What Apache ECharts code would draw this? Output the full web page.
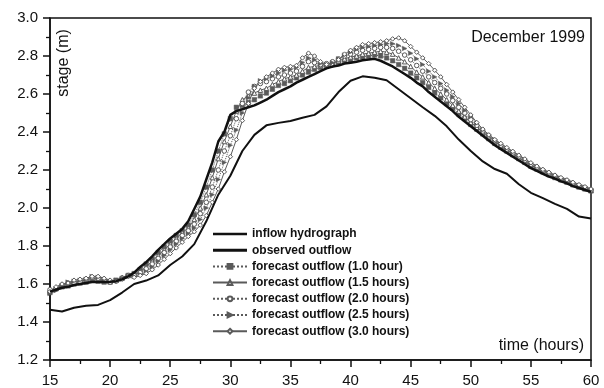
<!DOCTYPE html>
<html>
<head>
<meta charset="utf-8">
<script src="https://cdn.jsdelivr.net/npm/echarts@6/dist/echarts.min.js"></script>
<style>
html,body{margin:0;padding:0;background:#fff;}
#chart{width:604px;height:388px;}
</style>
</head>
<body>
<div id="chart"></div>
<script>
// ---- data ----
const hoursHalf = [15,15.5,16,16.5,17,17.5,18,18.5,19,19.5,20,20.5,21,21.5,22,22.5,23,23.5,24,24.5,25,25.5,26,26.5,27,27.5,28,28.5,29,29.5,30,30.5,31,31.5,32,32.5,33,33.5,34,34.5,35,35.5,36,36.5,37,37.5,38,38.5,39,39.5,40,40.5,41,41.5,42,42.5,43,43.5,44,44.5,45,45.5,46,46.5,47,47.5,48,48.5,49,49.5,50,50.5,51,51.5,52,52.5,53,53.5,54,54.5,55,55.5,56,56.5,57,57.5,58,58.5,59,59.5,60];
const hoursWhole = [15,16,17,18,19,20,21,22,23,24,25,26,27,28,29,30,31,32,33,34,35,36,37,38,39,40,41,42,43,44,45,46,47,48,49,50,51,52,53,54,55,56,57,58,59,60];

const inflowHydrograph = [1.465,1.455,1.475,1.485,1.49,1.515,1.555,1.60,1.618,1.645,1.70,1.745,1.81,1.93,2.07,2.17,2.30,2.385,2.435,2.448,2.458,2.475,2.49,2.535,2.61,2.67,2.693,2.685,2.672,2.625,2.578,2.53,2.485,2.43,2.36,2.30,2.245,2.205,2.18,2.125,2.08,2.052,2.022,1.995,1.955,1.945];

const observedOutflow = [1.56,1.57,1.58,1.585,1.595,1.60,1.605,1.61,1.61,1.61,1.612,1.615,1.625,1.64,
 1.66,1.69,1.715,1.745,1.78,1.81,1.84,1.865,1.89,1.93,1.995,2.06,2.15,2.24,2.35,2.40,
 2.49,2.51,2.52,2.53,2.54,2.555,2.57,2.59,2.61,2.625,2.64,2.66,2.675,2.69,
 2.705,2.72,2.735,2.745,2.75,2.76,2.765,2.77,2.778,2.782,2.785,2.775,2.76,2.745,
 2.725,2.705,2.685,2.66,2.64,2.61,2.585,2.56,2.535,2.51,2.48,2.455,2.43,2.405,
 2.38,2.355,2.33,2.31,2.29,2.27,2.25,2.23,2.21,2.195,2.18,2.165,2.155,2.14,
 2.13,2.115,2.105,2.095,2.085];

const forecast10 = [1.555,1.575,1.585,1.59,1.60,1.605,1.61,1.62,1.615,1.61,1.61,1.62,1.63,1.645,
 1.655,1.675,1.705,1.73,1.765,1.795,1.825,1.855,1.88,1.91,1.965,2.03,2.11,2.20,2.30,2.39,
 2.47,2.53,2.54,2.555,2.57,2.59,2.605,2.625,2.645,2.655,2.67,2.685,2.70,2.715,
 2.73,2.74,2.75,2.755,2.765,2.775,2.78,2.79,2.795,2.80,2.805,2.80,2.79,2.775,
 2.755,2.735,2.71,2.685,2.66,2.635,2.605,2.58,2.55,2.525,2.495,2.47,2.44,2.415,
 2.39,2.365,2.34,2.32,2.30,2.28,2.26,2.24,2.22,2.205,2.19,2.175,2.16,2.148,
 2.136,2.122,2.11,2.10,2.09];

const forecast15 = [1.565,1.58,1.59,1.60,1.61,1.615,1.62,1.63,1.625,1.615,1.615,1.62,1.635,1.645,
 1.65,1.665,1.69,1.72,1.75,1.78,1.81,1.84,1.87,1.895,1.94,2.0,2.07,2.16,2.26,2.35,
 2.43,2.51,2.57,2.59,2.605,2.62,2.63,2.65,2.665,2.68,2.69,2.70,2.72,2.74,
 2.745,2.75,2.755,2.765,2.775,2.785,2.795,2.80,2.81,2.815,2.82,2.825,2.82,2.81,
 2.79,2.77,2.745,2.715,2.69,2.66,2.63,2.60,2.57,2.54,2.51,2.48,2.45,2.425,
 2.40,2.375,2.35,2.325,2.305,2.285,2.265,2.245,2.225,2.21,2.195,2.18,2.165,2.152,
 2.14,2.126,2.115,2.104,2.093];

const forecast20 = [1.57,1.575,1.595,1.605,1.605,1.61,1.625,1.635,1.63,1.62,1.61,1.615,1.63,1.645,
 1.645,1.66,1.68,1.705,1.735,1.765,1.795,1.825,1.855,1.88,1.915,1.97,2.03,2.11,2.20,2.30,
 2.38,2.47,2.55,2.61,2.64,2.655,2.665,2.68,2.69,2.70,2.71,2.72,2.745,2.77,
 2.765,2.755,2.76,2.77,2.785,2.80,2.81,2.82,2.83,2.835,2.84,2.845,2.845,2.84,
 2.825,2.805,2.78,2.75,2.72,2.69,2.66,2.63,2.60,2.565,2.53,2.50,2.465,2.435,
 2.405,2.38,2.355,2.33,2.31,2.29,2.27,2.25,2.23,2.213,2.198,2.183,2.168,2.155,
 2.143,2.13,2.118,2.107,2.095];

const forecast25 = [1.55,1.565,1.59,1.61,1.615,1.62,1.625,1.64,1.635,1.625,1.615,1.62,1.625,1.64,
 1.64,1.65,1.665,1.69,1.72,1.75,1.78,1.81,1.84,1.865,1.895,1.94,2.0,2.07,2.15,2.24,
 2.33,2.41,2.50,2.58,2.64,2.67,2.68,2.695,2.71,2.725,2.73,2.74,2.765,2.79,
 2.78,2.76,2.755,2.765,2.785,2.805,2.82,2.835,2.845,2.85,2.855,2.86,2.865,2.865,
 2.855,2.84,2.815,2.785,2.755,2.72,2.69,2.655,2.62,2.585,2.55,2.515,2.48,2.445,
 2.41,2.385,2.36,2.335,2.315,2.295,2.275,2.255,2.235,2.218,2.20,2.185,2.17,2.158,
 2.146,2.133,2.12,2.11,2.097];

const forecast30 = [1.56,1.585,1.60,1.605,1.62,1.625,1.63,1.64,1.64,1.63,1.62,1.615,1.625,1.64,
 1.635,1.645,1.655,1.675,1.70,1.73,1.76,1.79,1.82,1.85,1.875,1.91,1.96,2.03,2.10,2.19,
 2.27,2.36,2.46,2.55,2.63,2.665,2.69,2.71,2.73,2.74,2.745,2.75,2.79,2.815,
 2.80,2.77,2.755,2.75,2.78,2.81,2.83,2.845,2.86,2.865,2.87,2.875,2.88,2.89,
 2.895,2.88,2.85,2.82,2.79,2.76,2.725,2.69,2.65,2.61,2.57,2.53,2.49,2.45,
 2.415,2.385,2.36,2.34,2.318,2.298,2.278,2.258,2.238,2.22,2.203,2.188,2.173,2.16,
 2.148,2.135,2.123,2.112,2.10];

const yTicks = [1.2,1.4,1.6,1.8,2.0,2.2,2.4,2.6,2.8,3.0];
const xTicks = [15,20,25,30,35,40,45,50,55,60];

const names = ['inflow hydrograph','observed outflow','forecast outflow (1.0 hour)','forecast outflow (1.5 hours)','forecast outflow (2.0 hours)','forecast outflow (2.5 hours)','forecast outflow (3.0 hours)'];

// ---- build ----
function pairs(xs, ys){ return xs.map((x,i)=>[x, ys[i]]); }
const FONT = '"Liberation Sans", Arial, sans-serif';
const INK = '#111';
const GRAY = '#5a5a5a';

function fc(name, data, symbol, lineType, hollow, rotate){
  return {
    name, type:'line', data: pairs(hoursHalf, data),
    symbol, symbolSize: 4.5, symbolRotate: rotate || 0, showSymbol:true,
    lineStyle:{color:GRAY, width:1, type:lineType},
    itemStyle: hollow ? {color:'#fff', borderColor:GRAY, borderWidth:1} : {color:GRAY, borderColor:GRAY, borderWidth:0.5},
    z: 2
  };
}

const lineIcon = w => 'path://M0,0 L34,0 L34,' + w + ' L0,' + w + ' Z';

const chart = echarts.init(document.getElementById('chart'), null, {renderer:'canvas'});
chart.setOption({
  animation:false,
  backgroundColor:'#fff',
  grid:{left:50, right:13, top:18, bottom:27, show:true, borderColor:INK, borderWidth:1.5},
  xAxis:{
    type:'value', min:xTicks[0], max:xTicks[xTicks.length-1], interval:5,
    axisLine:{show:true, onZero:false, lineStyle:{color:INK, width:1.5}},
    axisTick:{show:true, inside:false, length:7, lineStyle:{color:INK, width:1.5}},
    minorTick:{show:true, splitNumber:2, length:4, lineStyle:{color:INK, width:1.3}},
    splitLine:{show:false},
    axisLabel:{fontSize:15, color:INK, margin:13, fontFamily:FONT}
  },
  yAxis:{
    type:'value', min:yTicks[0], max:yTicks[yTicks.length-1], interval:0.2,
    axisLine:{show:true, onZero:false, lineStyle:{color:INK, width:1.5}},
    axisTick:{show:true, inside:false, length:7, lineStyle:{color:INK, width:1.5}},
    minorTick:{show:true, splitNumber:2, length:4, lineStyle:{color:INK, width:1.3}},
    splitLine:{show:false},
    axisLabel:{fontSize:15, color:INK, margin:12, fontFamily:FONT, formatter:v=>v.toFixed(1)}
  },
  legend:{
    orient:'vertical', left:212, top:228, padding:0,
    itemWidth:34, itemHeight:6, itemGap:4.2,
    data:[
      {name:names[0], icon:lineIcon(2.6)},
      {name:names[1], icon:lineIcon(3)},
      names[2], names[3], names[4], names[5], names[6]
    ],
    textStyle:{fontSize:12, fontWeight:'bold', color:INK, fontFamily:FONT}
  },
  graphic:[
    {type:'text', x:64, y:63, rotation:Math.PI/2, style:{text:'stage (m)', fontSize:16, fontFamily:FONT, fill:INK, align:'center', verticalAlign:'middle'}},
    {type:'text', x:585, y:37.5, style:{text:'December 1999', fontSize:16, fontFamily:FONT, fill:INK, align:'right', verticalAlign:'middle'}},
    {type:'text', x:584, y:345.5, style:{text:'time (hours)', fontSize:16, fontFamily:FONT, fill:INK, align:'right', verticalAlign:'middle'}}
  ],
  series:[
    fc(names[2], forecast10, 'rect', 'dotted', false),
    fc(names[3], forecast15, 'triangle', 'solid', true),
    fc(names[4], forecast20, 'circle', 'dotted', true),
    fc(names[5], forecast25, 'triangle', 'dotted', false, -90),
    fc(names[6], forecast30, 'diamond', 'solid', true),
    {name:names[0], type:'line', data:pairs(hoursWhole, inflowHydrograph), symbol:'none', lineStyle:{color:INK, width:2}, itemStyle:{color:INK}, z:3},
    {name:names[1], type:'line', data:pairs(hoursHalf, observedOutflow), symbol:'none', lineStyle:{color:INK, width:2.5}, itemStyle:{color:INK}, z:4}
  ]
});
</script>
</body>
</html>
